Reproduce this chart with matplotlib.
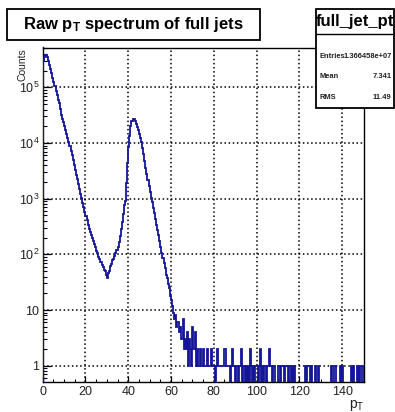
import numpy as np
import matplotlib
matplotlib.use('Agg')
import matplotlib.pyplot as plt
from matplotlib.patches import Rectangle
from matplotlib.lines import Line2D
from matplotlib.ticker import FixedLocator, LogLocator, NullFormatter, MultipleLocator

plt.rcParams['font.family'] = ['Liberation Sans', 'DejaVu Sans']
plt.rcParams['mathtext.fontset'] = 'custom'
plt.rcParams['mathtext.rm'] = 'Liberation Sans'
plt.rcParams['mathtext.it'] = 'Liberation Sans'
plt.rcParams['mathtext.bf'] = 'Liberation Sans:bold'

# ---------------- data ----------------
pt_min, pt_max = 0.0, 150.0
counts = [
    302000, 355000, 389000, 389000, 355000, 302000, 257000, 214000, 178000, 148000,  # 0-5
    126000, 105000, 87000, 72400, 60300, 51300, 40700, 32400, 26900, 23400,          # 5-10
    20000, 17000, 14500, 12300, 10500, 8710, 7240, 6030, 4900, 4070,                 # 10-15
    3310, 2690, 2240, 1820, 1510, 1230, 1020, 851, 708, 589,                         # 15-20
    490, 407, 339, 288, 251, 224, 195, 174, 151, 135,                                # 20-25
    117, 105, 91, 81, 74, 64, 59, 53, 50, 42,                                        # 25-30
    38, 47, 50, 61, 66, 78, 84, 93, 108, 118,                                        # 30-35
    137, 166, 214, 288, 380, 525, 759, 912, 1905, 4470,                              # 35-40
    8510, 13500, 20000, 25100, 27500, 26900, 25100, 22400, 19500, 17000,             # 40-45
    14800, 12300, 10500, 8130, 6310, 4790, 3630, 2820, 2190, 1700,                   # 45-50
    1320, 1050, 871, 692, 550, 427, 339, 269, 219, 174,                              # 50-55
    138, 107, 87, 71, 58, 43, 37, 29, 25, 18,                                        # 55-60
    15, 12, 9, 7, 8, 5, 6, 4, 5, 3,                                                  # 60-65
    3, 7, 2, 3, 2, 4, 1, 3, 2, 1,                                                    # 65-70
    5, 2, 4, 1, 2, 1, 1, 2, 1, 1,                                                    # 70-75
    2, 1, 1, 1, 2, 1, 1, 2, 1, 1,                                                    # 75-80
    1, 0, 1, 2, 1, 1, 1, 1, 1, 1,                                                    # 80-85
    2, 1, 1, 1, 1, 0, 1, 2, 1, 1,                                                    # 85-90
    0, 1, 1, 0, 1, 2, 0, 1, 1, 0,                                                    # 90-95
    1, 0, 1, 0, 2, 1, 0, 1, 0, 1,                                                    # 95-100
    1, 0, 1, 2, 0, 1, 0, 1, 1, 0,                                                    # 100-105
    1, 1, 2, 1, 0, 1, 1, 0, 0, 0,                                                    # 105-110
    1, 1, 0, 1, 1, 1, 0, 1, 1, 0,                                                    # 110-115
    1, 1, 0, 1, 0, 1, 0, 0, 0, 0,                                                    # 115-120
    0, 0, 0, 0, 0, 1, 0, 1, 1, 1,                                                    # 120-125
    0, 1, 0, 0, 0, 1, 0, 1, 0, 0,                                                    # 125-130
    0, 0, 0, 0, 0, 0, 0, 0, 0, 0,                                                    # 130-135
    1, 0, 1, 1, 0, 0, 0, 0, 1, 0,                                                    # 135-140
    1, 0, 0, 0, 0, 0, 0, 0, 1, 0,                                                    # 140-145
    1, 0, 0, 0, 1, 0, 1, 0, 0, 1,                                                    # 145-150
]
x_ticks = [0, 20, 40, 60, 80, 100, 120, 140]
x_tick_labels = ['0', '20', '40', '60', '80', '100', '120', '140']
y_ticks = [1, 10, 1e2, 1e3, 1e4, 1e5]
y_tick_labels = ['1', '10', r'$\mathregular{10^{2}}$', r'$\mathregular{10^{3}}$',
                 r'$\mathregular{10^{4}}$', r'$\mathregular{10^{5}}$']
title_text = r'Raw $\mathbf{p_{T}}$ spectrum of full jets'
hist_name = 'full_jet_pt'
stats_labels = ['Entries', 'Mean', 'RMS']
stats_values = ['1.366458e+07', '7.341', '11.49']

# ---------------- figure ----------------
W, H = 395, 412
fig = plt.figure(figsize=(W / 100, H / 100), dpi=100)
fig.patch.set_facecolor('white')

def fx(px):
    return px / W

def fy(py):
    return 1 - py / H

ax_l, ax_r, ax_t, ax_b = 42.7, 363.5, 47.5, 382.0
ax = fig.add_axes([fx(ax_l), fy(ax_b), fx(ax_r - ax_l), (ax_b - ax_t) / H])

line_color = '#15159a'
vals = np.array(counts, dtype=float)
edges = np.linspace(pt_min, pt_max, len(vals) + 1)
floor = 1e-3
draw_vals = np.where(vals > 0, vals, floor)
ax.stairs(draw_vals, edges, baseline=floor, color=line_color, lw=1.3, zorder=3)

ax.set_yscale('log')
ax.set_xlim(pt_min, pt_max)
ax.set_ylim(0.51, 5.2e5)

ax.xaxis.set_major_locator(FixedLocator(x_ticks))
ax.set_xticklabels(x_tick_labels)
ax.xaxis.set_minor_locator(MultipleLocator(5))
ax.yaxis.set_major_locator(FixedLocator(y_ticks))
ax.set_yticklabels(y_tick_labels)
ax.yaxis.set_minor_locator(LogLocator(base=10, subs=np.arange(2, 10), numticks=20))
ax.yaxis.set_minor_formatter(NullFormatter())

ax.tick_params(axis='both', which='both', direction='in', color='black',
               labelsize=9, labelcolor='#222222')
ax.tick_params(axis='x', which='major', length=4.5, width=0.9, pad=3)
ax.tick_params(axis='x', which='minor', length=2.3, width=0.8)
ax.tick_params(axis='y', which='major', length=6, width=0.9, pad=2.5)
ax.tick_params(axis='y', which='minor', length=3, width=0.8)

ax.grid(True, which='major', color='black', linestyle=(0, (1, 1.7)), lw=1.1, zorder=1)
for sp in ax.spines.values():
    sp.set_linewidth(1.0)
    sp.set_color('black')

# axis titles (ROOT style)
fig.text(fx(17), fy(ax_t + 1), 'Counts', rotation=90, ha='left', va='top',
         fontsize=7.5, color='#222222')
fig.text(fx(ax_r + 1), fy(398), r'$\mathregular{p_{T}}$', ha='right', va='top',
         fontsize=10, color='#222222')

# title box
fig.patches.append(Rectangle((fx(6.7), fy(40)), fx(260 - 6.7), (40 - 9.3) / H,
                             transform=fig.transFigure, facecolor='white',
                             edgecolor='black', lw=1.3, zorder=5))
fig.text(fx(133.5), fy(24.5), title_text, ha='center', va='center',
         fontsize=12, fontweight='bold', zorder=6)

# stats box
sb_l, sb_r, sb_t, sb_b, sb_hdr = 315.5, 394.0, 9.3, 108.0, 33.5
fig.patches.append(Rectangle((fx(sb_l), fy(sb_b)), fx(sb_r - sb_l), (sb_b - sb_t) / H,
                             transform=fig.transFigure, facecolor='white',
                             edgecolor='black', lw=1.3, zorder=5))
fig.lines.append(Line2D([fx(sb_l), fx(sb_r)], [fy(sb_hdr), fy(sb_hdr)],
                        transform=fig.transFigure, color='black', lw=1.0, zorder=6))
fig.text(fx((sb_l + sb_r) / 2), fy(21.5), hist_name, ha='center', va='center',
         fontsize=12, fontweight='bold', zorder=7)
row_y = [57, 77, 97.5]
for lab, val, yy in zip(stats_labels, stats_values, row_y):
    fig.text(fx(319.5), fy(yy), lab, ha='left', va='center', fontsize=5.4,
             fontweight='bold', color='#222222', zorder=7)
    fig.text(fx(391.5), fy(yy), val, ha='right', va='center', fontsize=5.4,
             fontweight='bold', color='#222222', zorder=7)

fig.savefig('out.png', dpi=100, facecolor='white')
